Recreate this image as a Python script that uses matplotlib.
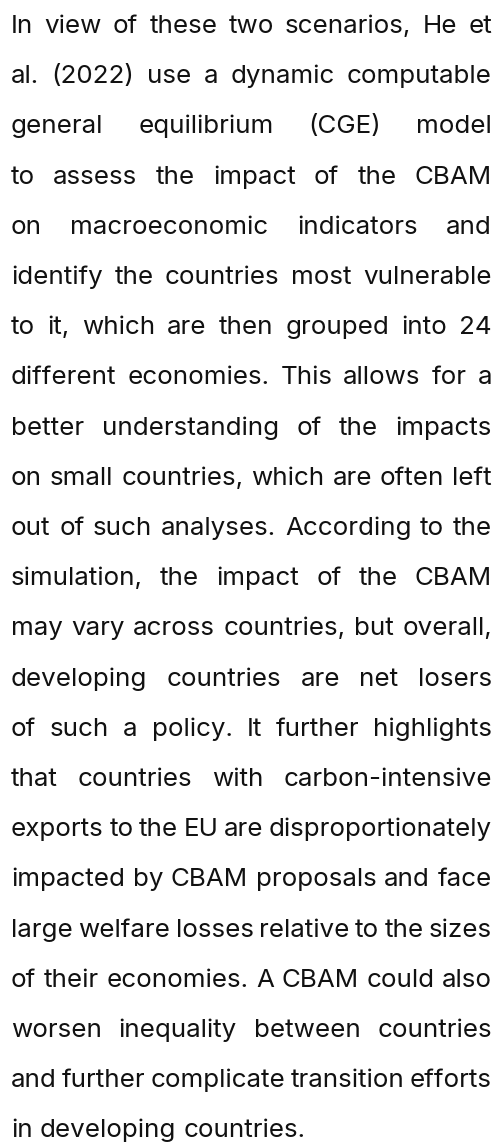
import matplotlib
matplotlib.use("Agg")
import matplotlib.pyplot as plt

# paragraph, one entry per rendered line
lines = [
    "In view of these two scenarios, He et",
    "al. (2022) use a dynamic computable",
    "general equilibrium (CGE) model",
    "to assess the impact of the CBAM",
    "on macroeconomic indicators and",
    "identify the countries most vulnerable",
    "to it, which are then grouped into 24",
    "different economies. This allows for a",
    "better understanding of the impacts",
    "on small countries, which are often left",
    "out of such analyses. According to the",
    "simulation, the impact of the CBAM",
    "may vary across countries, but overall,",
    "developing countries are net losers",
    "of such a policy. It further highlights",
    "that countries with carbon-intensive",
    "exports to the EU are disproportionately",
    "impacted by CBAM proposals and face",
    "large welfare losses relative to the sizes",
    "of their economies. A CBAM could also",
    "worsen inequality between countries",
    "and further complicate transition efforts",
    "in developing countries.",
]

W, H = 497, 1147
left, right = 11, 492
first_base, line_gap = 33, 50.2
fsize = 18.7
color = "#111111"

fig = plt.figure(figsize=(W / 100, H / 100), dpi=100)
ax = fig.add_axes([0, 0, 1, 1])
ax.set_xlim(0, W)
ax.set_ylim(H, 0)
ax.axis("off")

renderer = fig.canvas.get_renderer()
style = dict(fontsize=fsize, family="Inter", color=color, va="baseline", ha="left")

for i, line in enumerate(lines):
    y = first_base + i * line_gap
    words = line.split(" ")
    texts = [ax.text(0, y, w, **style) for w in words]
    widths = [t.get_window_extent(renderer).width for t in texts]
    if i == len(lines) - 1 or len(words) == 1:
        sp = ax.text(0, 0, "a a", **style)
        sp2 = ax.text(0, 0, "aa", **style)
        gap = sp.get_window_extent(renderer).width - sp2.get_window_extent(renderer).width
        sp.remove()
        sp2.remove()
    else:
        gap = (right - left - sum(widths)) / (len(words) - 1)
    x = left
    for t, w in zip(texts, widths):
        t.set_x(x)
        x += w + gap

fig.savefig("out.png", dpi=100, facecolor="white")
